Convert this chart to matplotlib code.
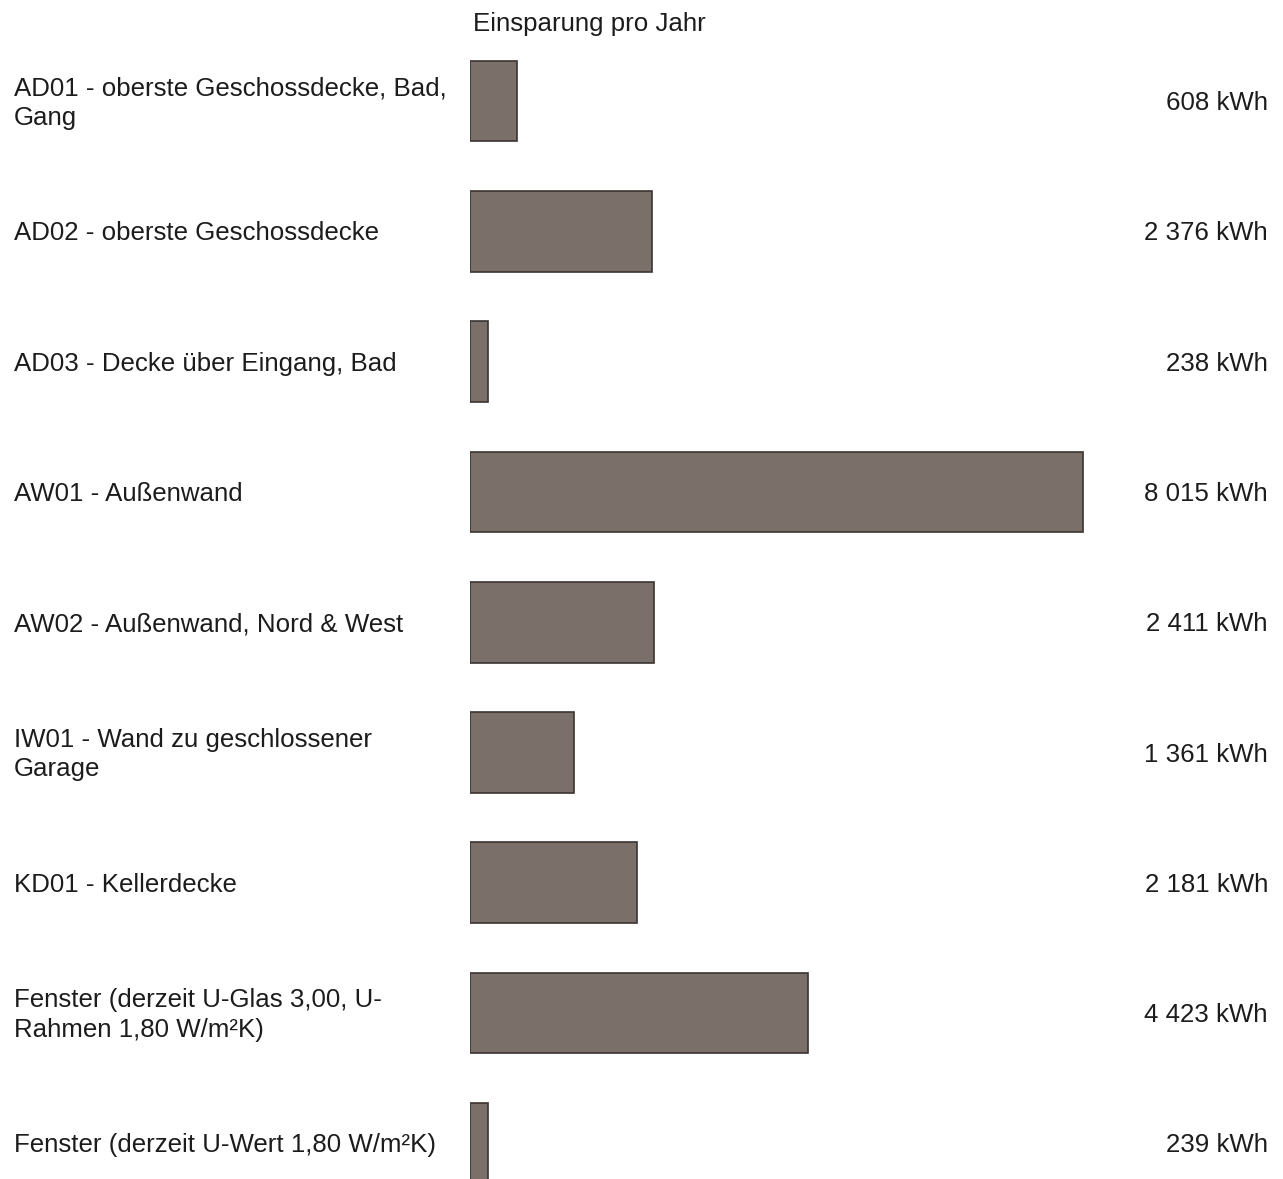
import numpy as np
import matplotlib.pyplot as plt
import matplotlib.transforms as mtransforms

plt.rcParams['font.family'] = ['Liberation Sans', 'DejaVu Sans']

# data
labels = [
    "AD01 - oberste Geschossdecke, Bad,\nGang",
    "AD02 - oberste Geschossdecke",
    "AD03 - Decke über Eingang, Bad",
    "AW01 - Außenwand",
    "AW02 - Außenwand, Nord & West",
    "IW01 - Wand zu geschlossener\nGarage",
    "KD01 - Kellerdecke",
    "Fenster (derzeit U-Glas 3,00, U-\nRahmen 1,80 W/m²K)",
    "Fenster (derzeit U-Wert 1,80 W/m²K)",
]
savings_kwh = [608, 2376, 238, 8015, 2411, 1361, 2181, 4423, 239]
title = "Einsparung pro Jahr"

W, H = 1283, 1179
fig = plt.figure(figsize=(W / 100, H / 100), dpi=100)
fig.patch.set_facecolor('white')

# axes: left edge where bars start, full height
x0, x1 = 470, 1100
ax = fig.add_axes([x0 / W, 0, (x1 - x0) / W, 1])
ax.set_facecolor('none')
px_per_kwh = 613 / 8015
ax.set_xlim(0, (x1 - x0) / px_per_kwh)
step = 130.3
first = 101
ax.set_ylim((H - first) / step, -first / step)
ax.axis('off')

y = np.arange(len(labels))
ax.barh(y, savings_kwh, height=0.62, color='#7a6f69', edgecolor='#3b3431',
        linewidth=1.2, align='center')

txt = '#1c1c1c'
fs = 18.6
# nudge text down a couple of pixels
shift = mtransforms.ScaledTranslation(0, -2 / 100, fig.dpi_scale_trans)
trans = mtransforms.blended_transform_factory(fig.transFigure, ax.transData) + shift
for i, (lab, v) in enumerate(zip(labels, savings_kwh)):
    fig.text(14 / W, i, lab, transform=trans, ha='left', va='center',
             fontsize=fs, color=txt, linespacing=1.28)
    val = f"{v:,}".replace(",", " ") + " kWh"
    fig.text(1268 / W, i, val, transform=trans, ha='right', va='center',
             fontsize=fs, color=txt)

fig.text(473 / W, 1 - 24 / H, title, ha='left', va='center', fontsize=fs, color=txt)

fig.savefig('out.png', dpi=100, facecolor='white')
